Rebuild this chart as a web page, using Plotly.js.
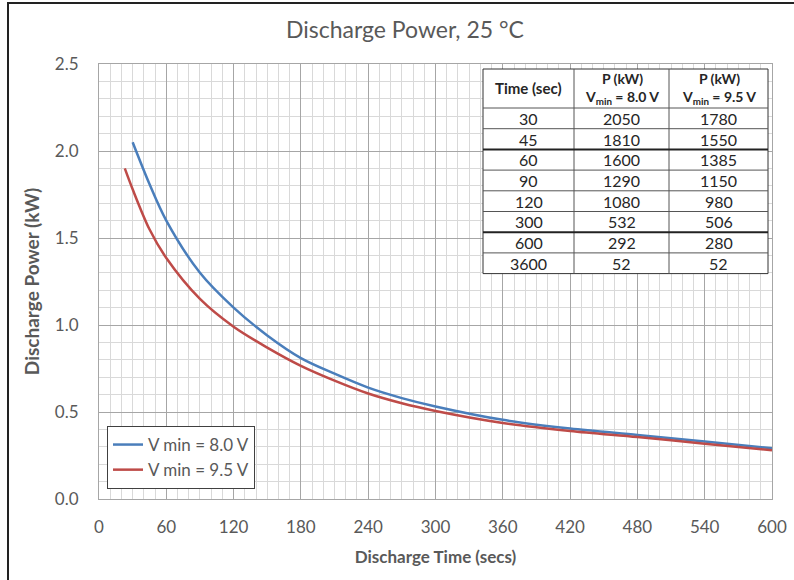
<!DOCTYPE html>
<html>
<head>
<meta charset="utf-8">
<script src="https://cdn.plot.ly/plotly-3.0.1.min.js"></script>
<style>
  html, body { margin: 0; padding: 0; background: #ffffff; }
  #chart { width: 794px; height: 580px; }
</style>
</head>
<body>
<div id="chart"></div>
<script>
// ---- curve data ----
const timeSec80 = [30, 45, 60, 90, 120, 150, 180, 210, 240, 270, 300, 360, 420, 480, 540, 600];
const power80   = [2.05, 1.81, 1.60, 1.30, 1.10, 0.94, 0.81, 0.72, 0.64, 0.58, 0.532, 0.455, 0.405, 0.368, 0.330, 0.292];
const timeSec95 = [23, 30, 45, 60, 90, 120, 150, 180, 210, 240, 270, 300, 360, 420, 480, 540, 600];
const power95   = [1.90, 1.78, 1.55, 1.385, 1.15, 0.99, 0.87, 0.765, 0.68, 0.606, 0.55, 0.506, 0.437, 0.391, 0.356, 0.318, 0.280];
const seriesNames = ['V min = 8.0 V', 'V min = 9.5 V'];

// ---- inset table data ----
const tableHeaders = ['<b>Time (sec)</b>', '<b>P (kW)</b><br><b>V<sub>min</sub> = 8.0 V</b>', '<b>P (kW)</b><br><b>V<sub>min</sub> = 9.5 V</b>'];
const tableTime = ['30', '45', '60', '90', '120', '300', '600', '3600'];
const tableP80  = ['2050', '1810', '1600', '1290', '1080', '532', '292', '52'];
const tableP95  = ['1780', '1550', '1385', '1150', '980', '506', '280', '52'];
const thickAfterRow = [1, 5];

// ---- layout geometry ----
const W = 794, H = 580;
const M = {l: 99, r: 22, t: 64, b: 81};
const PW = W - M.l - M.r, PH = H - M.t - M.b;
const px = x => (x - M.l) / PW;          // pixel -> paper x
const py = y => (H - M.b - y) / PH;      // pixel -> paper y

const FONT = 'Lato, "Open Sans", sans-serif';
const GREY = '#595959';

const traces = [
  {x: timeSec80, y: power80, name: seriesNames[0], type: 'scatter', mode: 'lines',
   line: {color: '#4A7EBB', width: 2.5, shape: 'spline', smoothing: 0.9}},
  {x: timeSec95, y: power95, name: seriesNames[1], type: 'scatter', mode: 'lines',
   line: {color: '#BE4B48', width: 2.5, shape: 'spline', smoothing: 0.9}}
];

// ---- table built as shapes + annotations ----
const tbl = {left: 483, right: 768, top: 69, headH: 39, rowH: 20.7, cols: [483, 574, 669, 768]};
const shapes = [];
const annotations = [];
const nRows = tableTime.length;
const tblBottom = tbl.top + tbl.headH + nRows * tbl.rowH;

shapes.push({type: 'rect', xref: 'paper', yref: 'paper', layer: 'above',
  x0: px(tbl.left), x1: px(tbl.right), y0: py(tblBottom), y1: py(tbl.top),
  fillcolor: '#ffffff', line: {color: '#333333', width: 1}});
for (let c = 1; c < tbl.cols.length - 1; c++) {
  shapes.push({type: 'line', xref: 'paper', yref: 'paper', layer: 'above',
    x0: px(tbl.cols[c]), x1: px(tbl.cols[c]), y0: py(tblBottom), y1: py(tbl.top),
    line: {color: '#555555', width: 1}});
}
for (let r = 0; r < nRows; r++) {
  const yy = tbl.top + tbl.headH + r * tbl.rowH;
  const thick = thickAfterRow.indexOf(r - 1) >= 0;
  shapes.push({type: 'line', xref: 'paper', yref: 'paper', layer: 'above',
    x0: px(tbl.left), x1: px(tbl.right), y0: py(yy), y1: py(yy),
    line: {color: thick ? '#222222' : '#555555', width: thick ? 2 : 1}});
}
for (let c = 0; c < 3; c++) {
  annotations.push({xref: 'paper', yref: 'paper', showarrow: false,
    x: px((tbl.cols[c] + tbl.cols[c + 1]) / 2), y: py(tbl.top + tbl.headH / 2),
    xanchor: 'center', yanchor: 'middle', align: 'center',
    text: tableHeaders[c], font: {family: FONT, size: c === 0 ? 15 : 14, color: '#262626'}});
}
const colsData = [tableTime, tableP80, tableP95];
for (let r = 0; r < nRows; r++) {
  for (let c = 0; c < 3; c++) {
    annotations.push({xref: 'paper', yref: 'paper', showarrow: false,
      x: px((tbl.cols[c] + tbl.cols[c + 1]) / 2),
      y: py(tbl.top + tbl.headH + (r + 0.5) * tbl.rowH),
      xanchor: 'center', yanchor: 'middle',
      text: colsData[c][r], font: {family: FONT, size: 16, color: '#262626'}});
  }
}
// outer frame of the picture (left and top edges)
shapes.push({type: 'line', xref: 'paper', yref: 'paper', layer: 'above',
  x0: px(8), x1: px(8), y0: py(H + 2), y1: py(3), line: {color: '#222222', width: 2}});
shapes.push({type: 'line', xref: 'paper', yref: 'paper', layer: 'above',
  x0: px(7), x1: px(W + 2), y0: py(3), y1: py(3), line: {color: '#222222', width: 2}});

const layout = {
  width: W, height: H,
  margin: M,
  paper_bgcolor: '#ffffff', plot_bgcolor: '#ffffff',
  font: {family: FONT, color: GREY, size: 17},
  title: {text: 'Discharge Power, 25 °C', x: 0.51, xref: 'container', xanchor: 'center',
          y: 0.948, yref: 'container', yanchor: 'middle',
          font: {family: FONT, size: 23, color: GREY}},
  xaxis: {
    range: [0, 600], tick0: 0, dtick: 60, tickmode: 'linear',
    showgrid: true, gridcolor: '#a6a6a6', gridwidth: 1,
    minor: {dtick: 10, tick0: 0, showgrid: true, gridcolor: '#d9d9d9', gridwidth: 1},
    showline: true, linecolor: '#a6a6a6', linewidth: 1, mirror: true,
    zeroline: false, ticks: '', ticklabelstandoff: 13,
    tickfont: {family: FONT, size: 17, color: GREY},
    title: {text: '<b>Discharge Time (secs)</b>', standoff: 14,
            font: {family: FONT, size: 17, color: GREY}}
  },
  yaxis: {
    range: [0, 2.5], tick0: 0, dtick: 0.5, tickmode: 'linear', tickformat: '.1f',
    showgrid: true, gridcolor: '#a6a6a6', gridwidth: 1,
    minor: {dtick: 0.1, tick0: 0, showgrid: true, gridcolor: '#d9d9d9', gridwidth: 1},
    showline: true, linecolor: '#a6a6a6', linewidth: 1, mirror: true,
    zeroline: false, ticks: '', ticklabelstandoff: 16,
    tickfont: {family: FONT, size: 17, color: GREY},
    title: {text: '<b>Discharge Power (kW)</b>', standoff: 10,
            font: {family: FONT, size: 19, color: GREY}}
  },
  showlegend: true,
  legend: {x: px(107), y: py(489), xanchor: 'left', yanchor: 'bottom',
           bgcolor: '#ffffff', bordercolor: '#404040', borderwidth: 1,
           itemwidth: 30, tracegroupgap: 0,
           font: {family: FONT, size: 17, color: GREY}},
  shapes: shapes,
  annotations: annotations
};

Plotly.newPlot('chart', traces, layout, {displayModeBar: false, staticPlot: true});
</script>
</body>
</html>
